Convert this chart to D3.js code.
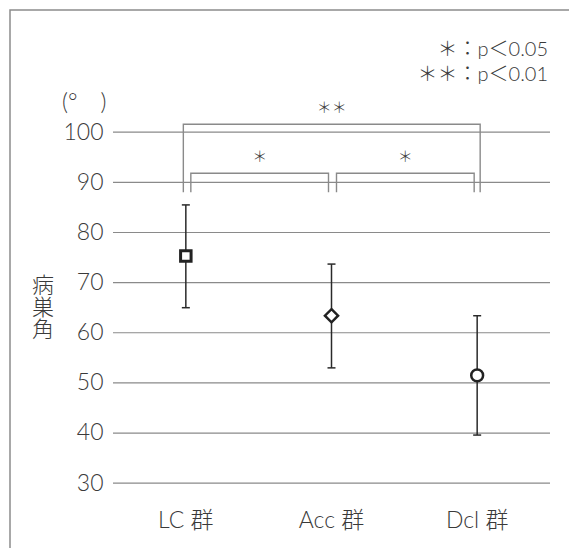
<!DOCTYPE html>
<html>
<head>
<meta charset="utf-8">
<script src="https://cdn.jsdelivr.net/npm/d3@7"></script>
<style>
  body { margin: 0; background: #fff; }
  text { font-family: Lato, "Noto Sans CJK JP", sans-serif; font-weight: 300; fill: #3a3a3a; }
  .cjk { font-family: "Noto Sans CJK JP", sans-serif; }
</style>
</head>
<body>
<div id="chart"></div>
<script>
// chart values
const groups = ['LC 群', 'Acc 群', 'Dcl 群'];
const means = [75.2, 63.3, 51.4];
const upper = [85.4, 73.6, 63.3];
const lower = [64.9, 52.9, 39.5];
const markers = ['square', 'diamond', 'circle'];
const yTicks = [30, 40, 50, 60, 70, 80, 90, 100];
const sigFrom = [0, 0, 1];
const sigTo = [2, 1, 2];
const sigTop = [101.5, 91.7, 91.7];
const sigLabel = ['＊＊', '＊', '＊'];
const sigFoot = 87.9;
const legendLines = ['＊：p＜0.05', '＊＊：p＜0.01'];
const yUnit = '(°\u2002\u2002)';
const yTitle = '病巣角';

const W = 569;
const H = 548;

const svg = d3.select('#chart').append('svg')
  .attr('width', W)
  .attr('height', H);

const x = d3.scalePoint().domain(d3.range(groups.length)).range([113, 550]).padding(0.5);
const y = d3.scaleLinear().domain([30, 100]).range([482.7, 131.7]);

// frame (left + top only)
svg.append('path')
  .attr('d', `M10,${H} L10,10 L${W},10`)
  .attr('fill', 'none')
  .attr('stroke', '#8c8c8c')
  .attr('stroke-width', 1.5);

// gridlines + tick labels
const yAxis = d3.axisLeft(y)
  .tickValues(yTicks)
  .tickSize(-(550 - 113))
  .tickPadding(9.5);

const gy = svg.append('g')
  .attr('transform', 'translate(113,0)')
  .call(yAxis);
gy.select('.domain').remove();
gy.selectAll('line').attr('stroke', '#8a8a8a').attr('stroke-width', 1.2);
gy.selectAll('text')
  .attr('font-size', 23)
  .style('font-family', 'Lato, "Noto Sans CJK JP", sans-serif')
  .style('font-weight', 300)
  .attr('fill', '#3a3a3a');

// unit + axis title
svg.append('text')
  .attr('x', 62)
  .attr('y', 110)
  .attr('font-size', 23)
  .text(yUnit);

svg.append('text')
  .attr('class', 'cjk')
  .attr('x', 43)
  .attr('y', 274)
  .attr('font-size', 22)
  .style('writing-mode', 'vertical-rl')
  .text(yTitle);

// category labels
svg.selectAll('.xlab')
  .data(groups)
  .enter().append('text')
  .attr('x', (d, i) => x(i))
  .attr('y', 528)
  .attr('text-anchor', 'middle')
  .attr('font-size', 23)
  .text(d => d);

// significance brackets
sigFrom.forEach((f, k) => {
  const outer = sigTo[k] - f > 1;
  const x0 = x(f) + (outer ? -2.5 : 5);
  const x1 = x(sigTo[k]) + (outer ? 3 : -3);
  svg.append('path')
    .attr('d', `M${x0},${y(sigFoot)} V${y(sigTop[k])} H${x1} V${y(sigFoot)}`)
    .attr('fill', 'none')
    .attr('stroke', '#8a8a8a')
    .attr('stroke-width', 1.4);
  svg.append('text')
    .attr('class', 'cjk')
    .attr('x', (x0 + x1) / 2)
    .attr('y', y(sigTop[k]) - 11)
    .attr('text-anchor', 'middle')
    .attr('font-size', 15)
    .attr('fill', '#444')
    .text(sigLabel[k]);
});

// error bars
const bars = svg.selectAll('.bar')
  .data(groups)
  .enter().append('g');

bars.append('line')
  .attr('x1', (d, i) => x(i))
  .attr('x2', (d, i) => x(i))
  .attr('y1', (d, i) => y(upper[i]))
  .attr('y2', (d, i) => y(lower[i]));
bars.append('line')
  .attr('x1', (d, i) => x(i) - 4)
  .attr('x2', (d, i) => x(i) + 4)
  .attr('y1', (d, i) => y(upper[i]))
  .attr('y2', (d, i) => y(upper[i]));
bars.append('line')
  .attr('x1', (d, i) => x(i) - 4)
  .attr('x2', (d, i) => x(i) + 4)
  .attr('y1', (d, i) => y(lower[i]))
  .attr('y2', (d, i) => y(lower[i]));
bars.selectAll('line')
  .attr('stroke', '#2a2a2a')
  .attr('stroke-width', 1.5);

// markers
const symbolFor = {
  square: d3.symbol().type(d3.symbolSquare).size(110),
  diamond: d3.symbol().type(d3.symbolDiamond2).size(110),
  circle: d3.symbol().type(d3.symbolCircle).size(110),
};

svg.selectAll('.mark')
  .data(groups)
  .enter().append('path')
  .attr('transform', (d, i) => `translate(${x(i)},${y(means[i])})`)
  .attr('d', (d, i) => symbolFor[markers[i]]())
  .attr('fill', '#fff')
  .attr('stroke', '#222')
  .attr('stroke-width', (d, i) => (markers[i] === 'square' ? 3 : 2.5));

// legend
svg.selectAll('.leg')
  .data(legendLines)
  .enter().append('text')
  .attr('x', 548)
  .attr('y', (d, i) => 56 + i * 24.7)
  .attr('text-anchor', 'end')
  .attr('font-size', 20)
  .text(d => d);
</script>
</body>
</html>
